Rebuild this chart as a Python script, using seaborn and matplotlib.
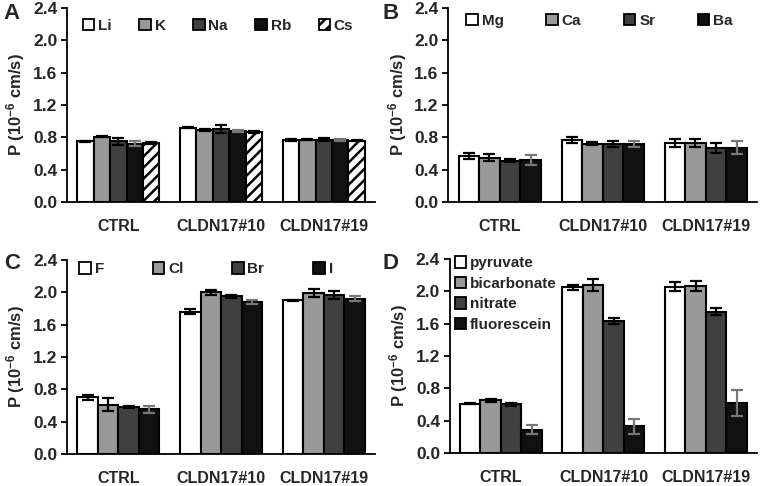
import numpy as np
import pandas as pd
import matplotlib
matplotlib.use("Agg")
import matplotlib.pyplot as plt
from matplotlib.patches import Patch
import seaborn as sns

groups = ["CTRL", "CLDN17#10", "CLDN17#19"]

# Panel A: monovalent cations
ions_a = ["Li", "K", "Na", "Rb", "Cs"]
vals_a = [[0.75, 0.81, 0.75, 0.72, 0.73],
          [0.92, 0.89, 0.90, 0.88, 0.87],
          [0.77, 0.77, 0.77, 0.77, 0.76]]
errs_a = [[0.01, 0.01, 0.04, 0.03, 0.01],
          [0.005, 0.01, 0.05, 0.01, 0.01],
          [0.01, 0.005, 0.02, 0.01, 0.005]]

# Panel B: divalent cations
ions_b = ["Mg", "Ca", "Sr", "Ba"]
vals_b = [[0.57, 0.55, 0.51, 0.52],
          [0.77, 0.72, 0.72, 0.72],
          [0.73, 0.73, 0.67, 0.67]]
errs_b = [[0.04, 0.04, 0.02, 0.06],
          [0.04, 0.02, 0.04, 0.04],
          [0.05, 0.05, 0.06, 0.08]]

# Panel C: halides
ions_c = ["F", "Cl", "Br", "I"]
vals_c = [[0.70, 0.61, 0.58, 0.55],
          [1.76, 2.00, 1.95, 1.88],
          [1.90, 1.99, 1.97, 1.92]]
errs_c = [[0.03, 0.08, 0.01, 0.04],
          [0.03, 0.03, 0.02, 0.03],
          [0.01, 0.05, 0.05, 0.03]]

# Panel D: organic / other anions
ions_d = ["pyruvate", "bicarbonate", "nitrate", "fluorescein"]
vals_d = [[0.61, 0.65, 0.60, 0.29],
          [2.05, 2.08, 1.63, 0.33],
          [2.06, 2.07, 1.75, 0.62]]
errs_d = [[0.01, 0.02, 0.02, 0.06],
          [0.03, 0.07, 0.04, 0.09],
          [0.06, 0.06, 0.04, 0.16]]

yticks = [0.0, 0.4, 0.8, 1.2, 1.6, 2.0, 2.4]

sns.set_theme(style="ticks")
plt.rcParams["font.family"] = ["Liberation Sans", "DejaVu Sans"]
plt.rcParams["font.weight"] = "bold"
plt.rcParams["mathtext.fontset"] = "custom"
plt.rcParams["mathtext.rm"] = "Liberation Sans:bold"
plt.rcParams["mathtext.bf"] = "Liberation Sans:bold"
plt.rcParams["mathtext.default"] = "bf"
plt.rcParams["hatch.linewidth"] = 1.8
plt.rcParams["hatch.color"] = "black"

colors4 = ["#ffffff", "#999999", "#404040", "#111111"]
colors5 = ["#ffffff", "#999999", "#404040", "#111111", "#ffffff"]
errcols4 = ["black", "black", "black", "#777777"]
errcols5 = ["black", "black", "black", "#777777", "black"]

fig = plt.figure(figsize=(7.61, 4.86), dpi=100)

positions = {
    "A": [0.088, 0.584, 0.405, 0.40],
    "B": [0.589, 0.584, 0.406, 0.40],
    "C": [0.088, 0.066, 0.405, 0.399],
    "D": [0.591, 0.068, 0.404, 0.399],
}
letter_pos = {"A": (0.005, 0.993), "B": (0.502, 0.993), "C": (0.005, 0.479), "D": (0.502, 0.479)}

TICK_FS = 12.5
CAT_FS = 11.5
LEG_FS = 11
YLAB_FS = 12


def make_panel(key, ions, vals, errs, cols, ecols, hatch_idx=None, vertical_legend=False,
               legend_anchor=(0.0, 1.0), colspacing=2.0):
    ax = fig.add_axes(positions[key])
    rows = []
    for gi, g in enumerate(groups):
        for ii, ion in enumerate(ions):
            rows.append({"group": g, "ion": ion, "value": vals[gi][ii]})
    df = pd.DataFrame(rows)
    sns.barplot(data=df, x="group", y="value", hue="ion", order=groups, hue_order=ions,
                palette=cols, edgecolor="black", linewidth=1.5, errorbar=None,
                saturation=1, width=0.8, legend=False, ax=ax)
    bar_conts = list(ax.containers)
    for ii, cont in enumerate(bar_conts):
        xs = [b.get_x() + b.get_width() / 2 for b in cont]
        hs = [b.get_height() for b in cont]
        e = [errs[gi][ii] for gi in range(len(groups))]
        if hatch_idx is not None and ii == hatch_idx:
            for b in cont:
                b.set_hatch("///")
        ax.errorbar(xs, hs, yerr=e, fmt="none", ecolor=ecols[ii], elinewidth=1.6,
                    capsize=4, capthick=1.6, zorder=5)
    ax.set_ylim(0, 2.4)
    ax.set_yticks(yticks)
    ax.set_yticklabels([f"{t:.1f}" for t in yticks], fontsize=TICK_FS, fontweight="bold")
    ax.set_xlim(-0.5, 2.5)
    ax.set_xlabel("")
    ax.set_ylabel(r"P (10$^{-6}$ cm/s)", fontsize=YLAB_FS, fontweight="bold", labelpad=4)
    ax.tick_params(axis="x", length=0, pad=12, labelsize=CAT_FS)
    ax.tick_params(axis="y", length=4, width=1.3, pad=3, direction="out", color="black")
    for lab in ax.get_xticklabels():
        lab.set_fontweight("bold")
    sns.despine(ax=ax)
    for s in ["left", "bottom"]:
        ax.spines[s].set_color("black")
        ax.spines[s].set_linewidth(1.3)
    handles = []
    for ii, ion in enumerate(ions):
        h = Patch(facecolor=cols[ii], edgecolor="black", linewidth=1.3, label=ion)
        if hatch_idx is not None and ii == hatch_idx:
            h.set_hatch("///")
        handles.append(h)
    if vertical_legend:
        ax.legend(handles=handles, loc="upper left", bbox_to_anchor=legend_anchor, ncol=1,
                  frameon=False, handlelength=0.75, handleheight=0.75,
                  handletextpad=0.25, labelspacing=0.42, borderaxespad=0,
                  prop={"weight": "bold", "size": LEG_FS})
    else:
        ax.legend(handles=handles, loc="upper left", bbox_to_anchor=legend_anchor,
                  ncol=len(ions), frameon=False, handlelength=0.75, handleheight=0.75,
                  handletextpad=0.25, columnspacing=colspacing, borderaxespad=0,
                  prop={"weight": "bold", "size": LEG_FS})
    fig.text(letter_pos[key][0], letter_pos[key][1], key,
             fontsize=16, fontweight="bold", va="top", ha="left")
    return ax


make_panel("A", ions_a, vals_a, errs_a, colors5, errcols5, hatch_idx=4,
           legend_anchor=(0.032, 0.975), colspacing=1.8)
make_panel("B", ions_b, vals_b, errs_b, colors4, errcols4,
           legend_anchor=(0.039, 1.0), colspacing=2.8)
make_panel("C", ions_c, vals_c, errs_c, colors4, errcols4,
           legend_anchor=(0.02, 1.02), colspacing=3.2)
make_panel("D", ions_d, vals_d, errs_d, colors4, errcols4, vertical_legend=True,
           legend_anchor=(-0.003, 1.045))

fig.savefig("out.png", dpi=100)
